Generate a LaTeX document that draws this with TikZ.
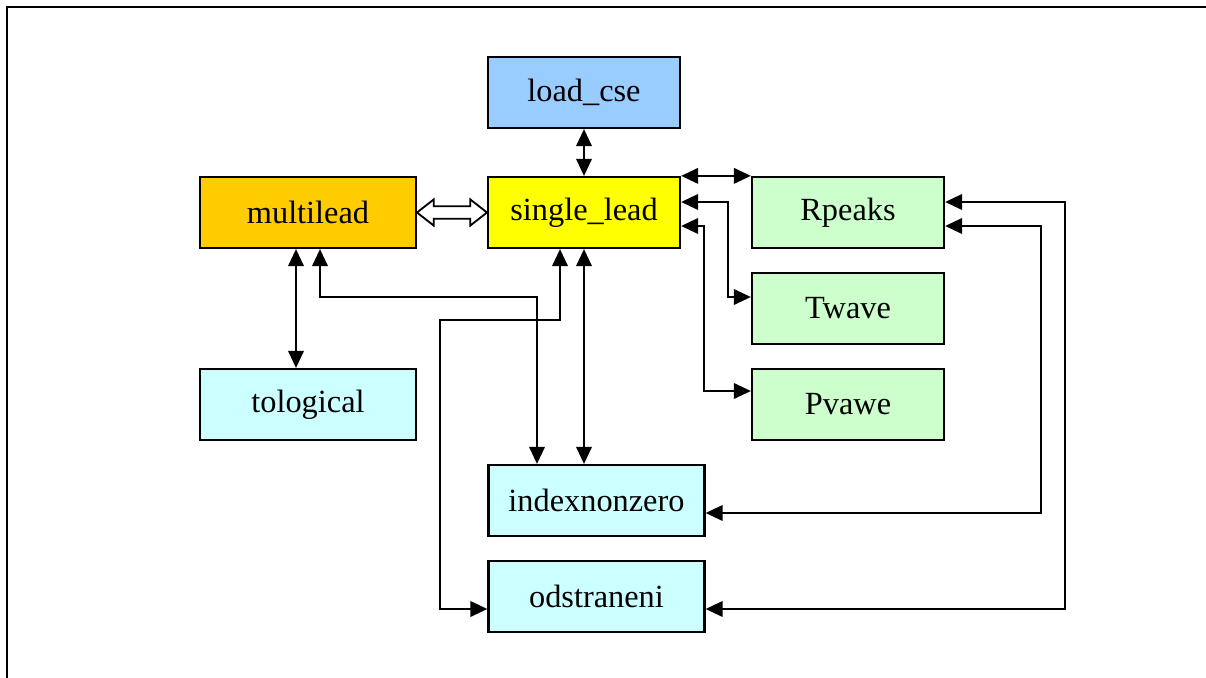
\documentclass[tikz,border=0pt]{standalone}
\usepackage{fontspec}
\setmainfont{Liberation Serif}
\usepackage{tikz}
\usetikzlibrary{arrows.meta,shapes.arrows,calc}
\usepackage{xcolor}
\definecolor{skyblue}{HTML}{99CCFF}
\definecolor{amber}{HTML}{FFCC00}
\definecolor{lemon}{HTML}{FFFF00}
\definecolor{mint}{HTML}{CCFFCC}
\definecolor{ice}{HTML}{CCFFFF}
\tikzset{>={Triangle[length=12pt,width=11pt]}}
\tikzset{%
    module/.style={%
        draw, line width=1.6pt, minimum width=4.8cm, minimum height=1.775cm,
        inner sep=0pt, font=\fontsize{23}{27}\selectfont
    },
    widemodule/.style={module, minimum width=5.4cm},
    link/.style={<->, line width=1.3pt}
}

\begin{document}
\begin{tikzpicture}[x=0.025cm,y=-0.025cm]
    \useasboundingbox (0,0) rectangle (1206,678);
    \draw[line width=1.6pt] (7,678) -- (7,7) -- (1206,7);
%    \draw[help lines,step=50] (0,0) grid (1206,678);
    \begin{scope}
        \node[module,fill=skyblue](A) at (584,92.5) {load\_cse};
        \node[widemodule,fill=amber](B) at (308,212.5) {multilead};
        \node[module,fill=lemon](C) at (584,212.5) {single\_lead};
        \node[module,fill=mint](D) at (848,212.5) {Rpeaks};
        \node[module,fill=mint](E) at (848,308.5) {Twave};
        \node[module,fill=mint](F) at (848,404.5) {Pvawe};
        \node[widemodule,fill=ice](G) at (308,404.5) {tological};
        \node[widemodule,fill=ice](H) at (596.5,500.5) {indexnonzero};
        \node[widemodule,fill=ice](I) at (596.5,596.5) {odstraneni};
    \end{scope}
    \node[double arrow,draw,fill=white,line width=1.3pt,minimum height=1.75cm,inner sep=0.135cm,
        double arrow head extend=0.17cm,double arrow tip angle=76](J) at ($(B.east)!0.5!(C.west)$) {};
    \draw[link] (A) -- (C);
    \draw[link] (B.south -| 296,0) -- (G.north -| 296,0);
    \draw[link] (B.south -| 320,0) |- (537,297) -- (H.north -| 537,0);
    \draw[link] (C.south) -- (H.north -| C.south);
    \draw[link] (C.south -| 560,0) |- (440,320) |- (I.west |- 0,609);
    \begin{scope}
        \draw[link] (C.north east) -- (D.north west);
        \draw[link] (C.east |- 0,202) -| (728,297) -- (E.west |- 0,297);
        \draw[link] (C.east |- 0,226) -| (704,391) -- (F.west |- 0,391);
        \draw[link] (D.east |- 0,202) -| (1065,609) -- (I.east |- 0,609);
        \draw[link] (D.east |- 0,226) -| (1041,513) -- (H.east |- 0,513);
    \end{scope}
\end{tikzpicture}
\end{document}
